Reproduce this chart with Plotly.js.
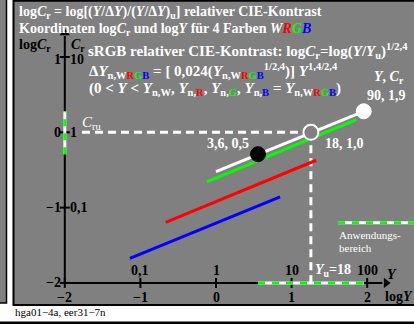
<!DOCTYPE html>
<html><head><meta charset="utf-8">
<script src="https://cdn.plot.ly/plotly-3.0.1.min.js"></script>
<style>html,body{margin:0;padding:0;background:#fff}#c{width:414px;height:324px}</style>
</head><body><div id="c"></div>
<script>
// ---- data (log10 values) ----
const whiteLogY = [0.0, 1.954];
const whiteLogCr = [-0.523, 0.279];
const greenLogY = [-0.12, 1.857];
const greenLogCr = [-0.658, 0.169];
const redLogY = [-0.666, 1.325];
const redLogCr = [-1.196, -0.371];
const blueLogY = [-1.139, 0.848];
const blueLogCr = [-1.673, -0.857];
const pointLogY = [0.556, 1.255, 1.954];   // Y = 3.6, 18, 90
const pointLogCr = [-0.291, 0.0, 0.279];   // Cr = 0.5, 1.0, 1.9
const rangeLogY = [0.556, 1.954];
const rangeLogCr = [-0.291, 0.279];
const xTicks = [-2, -1, 0, 1, 2];
const xTickLabels = ["−2", "−1", "0", "1", "2"];
const xTopLabels = ["", "0,1", "1", "10", "100"];
const yTicks = [-2, -1, 0, 1];
const yTickLeft = ["−2", "−1", "0", "1"];
const yTickRight = ["", "0,1", "1", "10"];

// pixel <-> data helpers (plot area = whole 414x324 figure)
const X0 = 216, SX = 75.6, Y0 = 132.3, SY = 75.3;
const xr = [-X0 / SX, (414 - X0) / SX];
const yr = [(Y0 - 324) / SY, Y0 / SY];
const dx = p => (p - X0) / SX;
const dy = p => (Y0 - p) / SY;
const GRAY = '#808080', GREEN = '#00ff00';
const F = 'Liberation Serif, Times New Roman, serif';

const traces = [];
function line(x, y, color, width, dash) {
  traces.push({x: x, y: y, mode: 'lines', type: 'scatter', hoverinfo: 'skip',
    line: {color: color, width: width, dash: dash || 'solid'}});
}
// axes
line([-2, 2.2], [-2, -2], '#000', 2);
line([-2, -2], [-2, 1.28], '#000', 2);
traces.push({x: [2.25], y: [-2], mode: 'markers', type: 'scatter', hoverinfo: 'skip',
  marker: {symbol: 'triangle-right', size: 9, color: '#000'}});
traces.push({x: [-2], y: [1.32], mode: 'markers', type: 'scatter', hoverinfo: 'skip',
  marker: {symbol: 'triangle-up', size: 9, color: '#000'}});
// ticks
xTicks.forEach(t => line([t, t], [-2 - 5 / SY, -2 + 5 / SY], '#000', 2));
yTicks.forEach(t => line([-2 - 5 / SX, -2 + 5 / SX], [t, t], '#000', 2));
// dashed reference lines
line([dx(82), pointLogY[1]], [0, 0], '#fff', 3, '8px,5px');
line([pointLogY[1], pointLogY[1]], [0, -2], '#fff', 3, '8px,5px');
// application range on axes
line(rangeLogY, [-2, -2], '#fff', 3);
line(rangeLogY, [-2, -2], GREEN, 3, '7px,7px');
line([-2, -2], rangeLogCr, '#fff', 3);
line([-2, -2], rangeLogCr, GREEN, 3, '7px,7px');
// legend line
line([dx(338), dx(414)], [dy(222.7), dy(222.7)], '#fff', 3);
line([dx(338), dx(414)], [dy(222.7), dy(222.7)], GREEN, 3, '7px,7px');
// colour lines
line(blueLogY, blueLogCr, '#0000ff', 3);
line(redLogY, redLogCr, '#ff0000', 3);
line(greenLogY, greenLogCr, GREEN, 3);
line(whiteLogY, whiteLogCr, '#ffffff', 3);
// points
traces.push({x: pointLogY, y: pointLogCr, mode: 'markers', type: 'scatter', hoverinfo: 'skip',
  marker: {size: 15, color: ['#000', GRAY, '#fff'],
    line: {color: ['#000', '#fff', '#fff'], width: [1, 2, 1]}}});

const ann = [];
function txt(px, py, text, opt) {
  opt = opt || {};
  ann.push(Object.assign({x: dx(px), y: dy(py), xref: 'x', yref: 'y', text: text, showarrow: false,
    xanchor: 'left', yanchor: 'middle',
    font: {family: F, size: 15, color: '#fff'}}, opt));
}
const b = s => '<b>' + s + '</b>';
const R = '<span style="color:#ff0000">R</span>', G = '<span style="color:' + GREEN + '">G</span>',
  B = '<span style="color:#0000ff">B</span>';
txt(17, 12, b('log<i>C</i><sub>r</sub> = log[(<i>Y</i>/Δ<i>Y</i>)/(<i>Y</i>/Δ<i>Y</i>)<sub>u</sub>] relativer CIE-Kontrast'), {font: {family: F, size: 14, color: '#fff'}});
txt(17, 29, b('Koordinaten log<i>C</i><sub>r</sub> und log<i>Y</i> für 4 Farben <i>W' + R + G + B + '</i>'), {font: {family: F, size: 14, color: '#fff'}});
txt(17, 45, b('log<i>C</i><sub>r</sub>'), {font: {family: F, size: 14, color: '#000'}});
txt(69, 45, b('<i>C</i><sub>r</sub>'), {font: {family: F, size: 14, color: '#000'}});
// y tick labels
yTicks.forEach((t, i) => {
  const py = Y0 - SY * t + (t === 1 ? 2 : 0);
  txt(63, py, b(yTickLeft[i]), {xanchor: 'right', font: {family: F, size: 14, color: '#000'}});
  if (yTickRight[i]) txt(68, py, b(yTickRight[i]), {font: {family: F, size: 14, color: '#000'}});
});
// x tick labels
xTicks.forEach((t, i) => {
  txt(X0 + SX * t, 297, b(xTickLabels[i]), {xanchor: 'center', font: {family: F, size: 14, color: '#000'}});
  if (xTopLabels[i]) txt(X0 + SX * t, 270, b(xTopLabels[i]), {xanchor: 'center', font: {family: F, size: 14, color: '#000'}});
});
txt(383, 296, b('log<i>Y</i>'), {font: {family: F, size: 14, color: '#000'}});
txt(385, 274, b('<i>Y</i>'), {font: {family: F, size: 14, color: '#000'}});
txt(313, 270, b('<i>Y</i><sub>u</sub>=18'), {font: {family: F, size: 14, color: '#fff'}});
// white text block
txt(86, 51, b('sRGB relativer CIE-Kontrast: log<i>C</i><sub>r</sub>=log(<i>Y</i>/<i>Y</i><sub>u</sub>)<sup>1/2,4</sup>'));
txt(87, 71, b('Δ<i>Y</i><sub>n,W' + R + G + B + '</sub> = [ 0,024(<i>Y</i><sub>n,W' + R + G + B + '</sub><sup>1/2,4</sup>)] <i>Y</i><sup>1,4/2,4</sup>'));
txt(87, 89, b('(0 &lt; <i>Y</i> &lt; <i>Y</i><sub>n,W</sub>, <i>Y</i><sub>n,' + R + '</sub>, <i>Y</i><sub>n,' + G + '</sub>, <i>Y</i><sub>n,' + B + '</sub> = <i>Y</i><sub>n,W' + R + G + B + '</sub>)'));
txt(372, 77, b('<i>Y</i>, <i>C</i><sub>r</sub>'), {font: {family: F, size: 14, color: '#fff'}});
txt(365, 95, b('90, 1,9'), {font: {family: F, size: 14, color: '#fff'}});
txt(80, 123, '<i>C</i><sub>ru</sub>', {font: {family: F, size: 15, color: '#fff'}});
txt(205, 143, b('3,6, 0,5'), {font: {family: F, size: 14, color: '#fff'}});
txt(323, 143, b('18, 1,0'), {font: {family: F, size: 14, color: '#fff'}});
txt(337, 235, 'Anwendungs-', {font: {family: F, size: 11, color: '#fff'}});
txt(337, 248, 'bereich', {font: {family: F, size: 11, color: '#fff'}});
txt(13, 312, 'hga01−4a, eer31−7n', {font: {family: F, size: 11, color: '#000'}});

const px = p => p / 414, py = p => 1 - p / 324;
const shapes = [
  {type: 'rect', xref: 'paper', yref: 'paper', x0: px(-2), x1: px(6.5), y0: py(303), y1: py(-2),
    fillcolor: GRAY, line: {color: '#000', width: 1.5}, layer: 'below'},
  {type: 'rect', xref: 'paper', yref: 'paper', x0: px(13.5), x1: px(416), y0: py(305), y1: py(0.8),
    fillcolor: GRAY, line: {color: '#000', width: 2}, layer: 'below'},
  {type: 'rect', xref: 'paper', yref: 'paper', x0: px(-2), x1: px(416), y0: py(326), y1: py(321.5),
    fillcolor: '#000', line: {width: 0}, layer: 'below'}
];

Plotly.newPlot('c', traces, {
  width: 414, height: 324, margin: {l: 0, r: 0, t: 0, b: 0},
  paper_bgcolor: '#fff', plot_bgcolor: 'rgba(0,0,0,0)', showlegend: false,
  xaxis: {range: xr, visible: false, fixedrange: true},
  yaxis: {range: yr, visible: false, fixedrange: true},
  shapes: shapes, annotations: ann
}, {staticPlot: true, displayModeBar: false});
</script></body></html>
